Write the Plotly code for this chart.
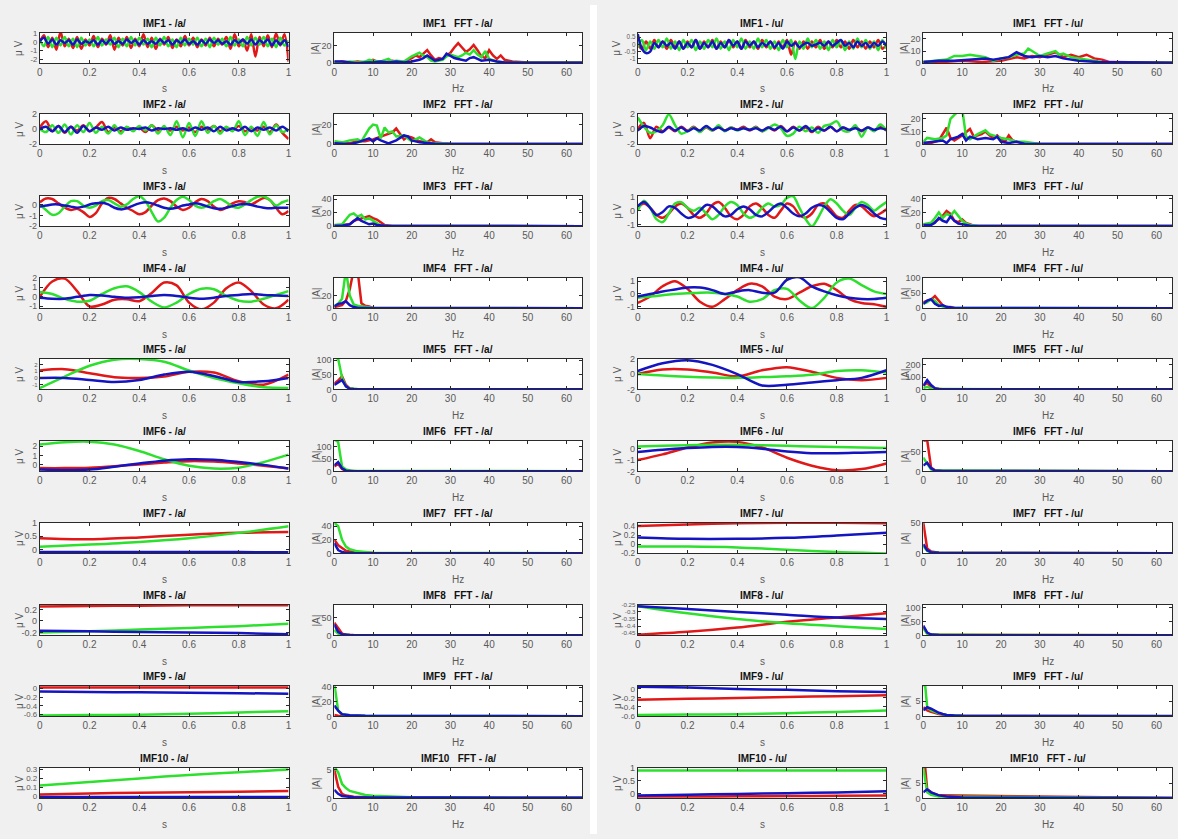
import numpy as np
import plotly.graph_objects as go

W, H = 1178, 839
RED, GREEN, BLUE = "#e01818", "#2ee02e", "#1414c0"

# ---------------- time-domain IMFs, vowel /a/ (values in uV, evenly spaced over 0..1 s) -------------
a1_red = [0.0, 0.8, -0.6, 0.5, -0.9, 1.2, -0.5, 0.4, -0.7, 0.6,
          -0.8, 0.3, -0.4, 0.7, -0.6, 0.4, -0.3, 0.8, -0.9, 0.5,
          -0.4, 0.6, -0.7, 0.4, -0.5, 0.9, -0.6, 0.5, -0.8, 0.4,
          -0.3, 0.6, -0.7, 0.3, -0.5, 0.7, -0.4, 0.5, -0.6, 0.3,
          -0.4, 0.5, -0.5, 0.4, -0.3, 0.6, -0.8, 0.9, -0.5, 0.3,
          -1.0, 0.9, -1.7, 0.6, -0.5, 0.8, -0.6, 1.0, -0.4, 0.9,
          -2.3]
a1_green = [0.3, -0.5, 0.6, -0.6, 0.5, -0.4, 0.6, -0.5, 0.4, -0.6,
            0.5, -0.4, 0.3, -0.5, 0.6, -0.4, 0.3, -0.3, 0.5, -0.6,
            0.4, -0.5, 0.6, -0.4, 0.5, -0.3, 0.4, -0.6, 0.5, -0.4,
            0.6, -0.5, 0.3, -0.6, 0.5, -0.4, 0.4, -0.3, 0.5, -0.5,
            0.4, -0.6, 0.5, -0.3, 0.4, -0.5, 0.6, -0.4, 0.3, -0.5,
            0.6, -0.4, 0.5, -0.3, 0.6, -0.5, 0.4, -0.6, 0.5, -0.4,
            0.2]
a1_blue = [0.1, 0.5, -0.2, 0.3, -0.3, 0.2, -0.1, 0.2, -0.3, 0.3,
           -0.2, 0.1, -0.1, 0.2, -0.3, 0.2, -0.2, 0.3, -0.2, 0.1,
           -0.2, 0.3, -0.1, 0.2, -0.3, 0.2, -0.2, 0.1, -0.2, 0.3,
           -0.1, 0.2, -0.3, 0.2, -0.1, 0.3, -0.2, 0.1, -0.3, 0.2,
           -0.2, 0.3, -0.1, 0.2, -0.2, 0.1, -0.3, 0.2, -0.1, 0.3,
           -0.2, 0.3, -0.3, 0.2, -0.1, 0.3, -0.4, 0.2, -0.3, 0.2,
           -0.6]

a2_red = [0.2, 1.0, -0.3, 0.4, -0.5, 0.3, -0.2, 0.5, -0.3, 0.2,
          0.9, -0.4, 0.2, -0.3, 0.2, -0.1, 0.2, -0.4, 0.5, -0.2,
          0.1, -0.2, 0.3, -0.2, 0.2, -0.4, 0.3, -0.1, 0.4, -0.3,
          0.2, -0.2, 0.4, -0.3, 0.1, -0.2, 0.3, -0.4, 0.6, -0.5,
          -1.3]
a2_green = [0.0, -0.4, 0.5, -0.5, 0.6, -0.7, 0.5, -0.4, 0.8, -0.5,
            0.3, -0.6, 0.5, -0.6, 0.3, -0.3, 0.4, -0.2, 0.5, -0.6,
            0.4, -0.8, 1.0, -1.1, 0.8, -0.9, 1.0, -0.5, 0.4, -0.6,
            0.3, -0.3, 1.0, -0.8, 0.3, -0.9, 0.9, -0.7, 0.5, -0.4,
            0.0]
a2_blue = [0.0, 0.3, -0.3, 0.4, -0.4, 0.3, -0.5, 0.4, -0.3, 0.2,
           -0.1, 0.3, -0.2, 0.2, -0.1, 0.1, 0.0, 0.2, -0.2, 0.1,
           0.0, 0.1, -0.1, 0.1, -0.2, 0.2, -0.1, 0.2, -0.3, 0.3,
           -0.2, 0.1, -0.2, 0.3, -0.3, 0.2, -0.1, 0.2, -0.2, 0.3,
           -0.3]

a3_red = [0.2, 0.55, 0.5, 0.1, -0.3, -0.5, -0.4, -0.7, -1.15, -0.8,
          0.1, 0.6, 0.5, 0.1, -0.3, -0.6, -0.9, -0.7, -0.1, 0.4,
          0.55, 0.3, -0.2, -0.5, -0.3, 0.2, 0.5, 0.3, -0.2, -0.5,
          -0.3, 0.1, 0.3, 0.2, 0.0, 0.3, 0.6, 0.4, -0.3, -0.9,
          -0.6]
a3_green = [0.0, -0.5, -0.95, -0.8, -0.2, 0.3, 0.3, -0.1, -0.3, -0.1,
            0.3, 0.4, 0.1, -0.2, 0.0, 0.5, 0.75, 0.3, -0.7, -1.55,
            -1.2, -0.3, 0.4, 0.7, 0.4, -0.1, -0.3, -0.1, 0.3, 0.5,
            0.2, -0.2, -0.3, 0.0, 0.4, 0.7, 0.75, 0.4, -0.1, 0.2,
            0.4]
a3_blue = [-0.2, -0.1, 0.0, 0.0, -0.1, -0.2, -0.3, -0.2, 0.0, 0.1,
           0.15, 0.0, -0.3, -0.45, -0.35, -0.1, 0.1, 0.2, 0.1, -0.1,
           -0.3, -0.4, -0.3, -0.1, 0.0, 0.1, 0.0, -0.2, -0.35, -0.4,
           -0.3, -0.15, 0.0, 0.05, -0.05, -0.2, -0.3, -0.35, -0.3, -0.3,
           -0.3]

a4_red = [0.0, 1.6, 1.9, 0.6, -1.0, -0.8, -0.3, -0.25, -0.45, 0.4, 1.5,
          1.2, -0.6, -1.3, -0.6, 0.9, 1.5, 0.6, -0.8, -1.2, -0.3]
a4_green = [0.5, 0.3, -0.2, -0.5, -0.4, 0.3, 0.9, 1.1, 0.5, -0.5, -1.1,
            -0.6, 0.3, 0.85, 0.8, 0.1, -0.4, -0.5, -0.2, 0.2, 0.6]
a4_blue = [-0.1, -0.2, -0.2, 0.0, 0.2, 0.15, 0.0, -0.1, -0.05, 0.1, 0.2,
           0.1, -0.1, -0.2, -0.1, 0.1, 0.2, 0.3, 0.2, 0.15, 0.1]

a5_red = [1.1, 1.3, 0.7, 0.1, 0.0, 0.2, 0.9, 0.8, -0.5, -1.0, 0.5]
a5_green = [-1.5, 0.2, 1.8, 2.7, 2.8, 2.4, 1.1, 0.0, -0.8, -1.4, -1.5]
a5_blue = [0.0, 0.0, -0.3, -0.6, -0.3, 0.5, 0.9, 0.3, -0.6, -0.5, 0.0]

a6_red = [-0.35, -0.35, -0.3, -0.15, 0.05, 0.25, 0.4, 0.35, 0.15, -0.1, -0.4]
a6_green = [2.2, 2.45, 2.5, 2.2, 1.5, 0.6, -0.1, -0.4, -0.3, 0.3, 1.1]
a6_blue = [-0.5, -0.55, -0.5, -0.2, 0.15, 0.45, 0.6, 0.55, 0.3, 0.0, -0.4]

a7_red = [0.42, 0.38, 0.45, 0.55, 0.62, 0.65]
a7_green = [0.1, 0.18, 0.28, 0.42, 0.62, 0.87]
a7_blue = [-0.1, -0.1, -0.1, -0.1, -0.1, -0.11]

a8_red = [0.25, 0.26, 0.265, 0.27, 0.27, 0.27]
a8_green = [-0.2, -0.18, -0.15, -0.12, -0.09, -0.05]
a8_blue = [-0.17, -0.18, -0.19, -0.2, -0.21, -0.23]

a9_red = [0.02, 0.02, 0.02, 0.02, 0.02, 0.02]
a9_green = [-0.62, -0.61, -0.6, -0.58, -0.55, -0.52]
a9_blue = [-0.07, -0.08, -0.09, -0.1, -0.11, -0.12]

a10_red = [0.02, 0.03, 0.04, 0.045, 0.05, 0.06]
a10_green = [0.12, 0.16, 0.2, 0.24, 0.27, 0.3]
a10_blue = [-0.01, -0.01, -0.01, -0.01, -0.01, -0.01]

# ---------------- time-domain IMFs, vowel /u/ -------------
u1_red = [0.0, -0.3, 0.2, -0.3, 0.3, -0.2, 0.2, -0.3, 0.3, -0.2,
          0.2, -0.3, 0.2, -0.2, 0.3, -0.3, 0.2, -0.2, 0.3, -0.3,
          0.2, -0.2, 0.3, -0.2, 0.2, -0.3, 0.3, -0.2, 0.2, -0.3,
          0.3, -0.2, 0.2, -0.3, 0.2, -0.2, 0.3, -0.7, 0.2, -0.3,
          0.2, -0.3, 0.2, -0.2, 0.3, -0.3, 0.2, -0.2, 0.3, -0.2,
          0.2, -0.3, 0.3, -0.2, 0.2, -0.3, 0.2, -0.2, 0.3, -0.3,
          0.0]
u1_green = [-0.2, 0.3, -0.4, 0.2, -0.3, 0.3, -0.2, 0.4, -0.3, 0.2,
            -0.4, 0.3, -0.2, 0.3, -0.4, 0.2, -0.3, 0.3, -0.2, 0.4,
            -0.3, 0.2, -0.4, 0.3, -0.2, 0.4, -0.3, 0.2, -0.3, 0.4,
            -0.2, 0.3, -0.3, 0.2, -0.4, 0.3, -0.2, 0.3, -1.0, 0.2,
            -0.3, 0.4, -0.2, 0.3, -0.3, 0.2, -0.4, 0.3, -0.2, 0.3,
            -0.4, 0.2, -0.3, 0.4, -0.2, 0.3, -0.3, 0.2, -0.4, 0.3,
            -0.3]
u1_blue = [0.7, -0.3, -0.6, -0.5, 0.1, -0.2, 0.2, -0.1, 0.1, -0.3,
           0.2, -0.3, 0.1, -0.2, 0.3, -0.3, 0.1, -0.2, 0.2, -0.3,
           0.1, -0.2, 0.3, -0.1, 0.2, -0.3, 0.2, -0.1, 0.2, -0.2,
           0.1, -0.1, 0.2, -0.2, 0.1, -0.3, 0.2, -0.1, 0.1, -0.2,
           0.0, 0.1, -0.1, 0.0, 0.1, -0.1, 0.2, -0.1, 0.1, 0.3,
           -0.1, 0.1, -0.2, 0.2, -0.1, 0.1, -0.2, 0.1, -0.1, 0.2,
           -0.1]

u2_red = [0.0, 0.8, -1.2, 0.3, -0.3, 0.2, -0.3, 0.3, -0.2, 0.3,
          -0.3, 0.2, -0.2, 0.3, -0.2, 0.2, -0.1, 0.3, -0.2, 0.3,
          -0.3, 0.2, -0.2, 0.4, -0.3, 0.3, -0.2, 0.2, -0.4, 0.3,
          -0.2, 0.3, -0.3, 0.2, -0.2, 0.3, -0.3, 0.2, -0.2, 0.3,
          -0.2]
u2_green = [1.5, 0.3, -0.5, -0.3, 0.5, 1.9, 0.5, -0.6, -0.3, 0.2,
            -0.4, 0.3, -0.2, 0.5, -0.3, 0.2, -0.2, 0.1, -0.1, 0.2,
            -0.3, 0.1, 0.6, 0.1, -0.9, -0.6, 0.3, -0.3, 0.2, -0.5,
            0.4, 0.6, 1.0, -0.2, -0.3, 0.5, -1.0, 0.2, -0.3, 0.6,
            -0.2]
u2_blue = [-0.2, 0.4, 0.2, -0.2, -0.4, 0.3, -0.2, 0.2, -0.3, 0.1,
           -0.2, 0.4, -0.1, 0.2, -0.2, 0.1, -0.1, 0.1, -0.1, 0.1,
           -0.2, 0.2, -0.1, 0.3, -0.3, 0.2, -0.2, 0.4, -0.3, 0.1,
           -0.2, 0.3, -0.3, 0.2, -0.1, 0.1, -0.2, 0.2, -0.1, 0.1,
           -0.1]

u3_red = [0.2, 0.5, 0.2, -0.3, -0.5, -0.2, 0.3, 0.5, 0.2, -0.3,
          -0.5, -0.2, 0.4, 0.6, 0.2, -0.4, -0.6, -0.3, 0.3, 0.5,
          0.2, -0.3, -0.5, 0.0, 0.5, 0.3, -0.3, -0.5, -0.2, 0.4,
          0.5, 0.1, -0.4, -0.5, 0.0, 0.4, 0.3, -0.1, -0.4, -0.2,
          0.1]
u3_green = [0.0, 0.7, 0.2, -0.6, -0.8, -0.2, 0.5, 0.6, 0.2, 0.0,
            0.2, -0.2, -0.6, -0.3, 0.3, 0.6, 0.4, -0.2, -0.5, -0.3,
            0.2, 0.5, 0.3, 0.4, 0.9, 1.0, 0.2, -0.6, -1.1, -0.5,
            0.3, 0.8, 0.5, 0.0, -0.3, 0.2, 0.6, 0.4, 0.0, 0.3,
            0.6]
u3_blue = [0.3, 0.6, 0.2, -0.3, -0.1, 0.3, 0.2, -0.2, -0.5, -0.4,
           0.0, 0.4, 0.3, -0.1, -0.4, -0.3, 0.1, 0.3, 0.1, -0.3,
           -0.4, -0.1, 0.3, 0.5, 0.2, -0.2, -0.4, -0.2, 0.2, 0.4,
           0.3, -0.1, -0.5, -0.6, -0.2, 0.2, 0.4, 0.2, -0.2, -0.5,
           -0.6]

u4_red = [-0.7, -0.2, 0.6, 1.0, 0.4, -0.6, -1.0, -0.4, 0.3, 0.8, 0.6,
          -0.2, -0.4, 0.1, 0.6, 0.8, 0.3, -0.4, -0.7, -0.8, -1.0]
u4_green = [-0.3, -0.2, -0.1, 0.0, 0.05, 0.1, 0.1, 0.0, -0.2, -0.6, -0.4,
            0.3, 0.4, -0.5, -1.1, -0.3, 0.9, 1.2, 0.7, 0.2, 0.0]
u4_blue = [-0.2, 0.0, 0.2, 0.35, 0.5, 0.5, 0.3, 0.0, 0.2, 0.3, 0.1,
           0.1, 1.1, 1.3, 0.6, 0.2, -0.1, -0.3, -0.4, -0.4, -0.3]

u5_red = [0.0, 0.6, 0.6, 0.2, -0.3, 0.5, 0.9, 0.3, -0.5, -0.8, -0.5]
u5_green = [0.0, -0.2, -0.35, -0.45, -0.5, -0.4, -0.3, -0.1, 0.4, 0.5, 0.2]
u5_blue = [0.4, 1.4, 1.8, 1.2, 0.0, -1.5, -1.4, -1.1, -0.8, -0.5, 0.5]

u6_red = [-1.0, -0.5, 0.1, 0.55, 0.6, 0.1, -0.8, -1.5, -1.9, -1.8, -1.3]
u6_green = [0.2, 0.25, 0.3, 0.35, 0.35, 0.3, 0.25, 0.2, 0.15, 0.1, 0.05]
u6_blue = [-0.3, -0.1, 0.05, 0.15, 0.15, 0.0, -0.25, -0.4, -0.4, -0.35, -0.3]

u7_red = [0.4, 0.43, 0.46, 0.47, 0.47, 0.46]
u7_green = [-0.05, -0.05, -0.07, -0.12, -0.17, -0.2]
u7_blue = [0.15, 0.12, 0.12, 0.14, 0.19, 0.25]

u8_red = [-0.46, -0.44, -0.41, -0.37, -0.34, -0.31]
u8_green = [-0.26, -0.31, -0.35, -0.38, -0.4, -0.42]
u8_blue = [-0.26, -0.28, -0.3, -0.32, -0.34, -0.35]

u9_red = [-0.24, -0.22, -0.2, -0.18, -0.16, -0.14]
u9_green = [-0.58, -0.57, -0.56, -0.54, -0.51, -0.48]
u9_blue = [0.05, 0.03, 0.0, -0.02, -0.05, -0.07]

u10_red = [-0.1, -0.1, -0.09, -0.08, -0.07, -0.06]
u10_green = [0.9, 0.9, 0.9, 0.9, 0.9, 0.9]
u10_blue = [-0.06, -0.03, 0.0, 0.03, 0.06, 0.1]

# ---------------- FFT magnitudes, (Hz, |A|) pairs -------------
fa1_red = [(0, 1), (2, 2), (4, 1), (6, 2), (8, 1), (10, 4), (11, 2), (13, 1), (15, 3), (17, 1), (18, 2),
           (20, 6), (21, 9), (22, 7), (23, 11), (24, 15), (25, 9), (26, 4), (27, 6), (28, 5), (29, 9),
           (30, 12), (31, 18), (32, 23), (33, 18), (34, 13), (35, 16), (36, 21), (37, 15), (38, 8),
           (39, 6), (40, 15), (41, 9), (42, 5), (43, 9), (44, 4), (46, 2), (50, 1), (64, 1)]
fa1_green = [(0, 2), (2, 1), (4, 2), (6, 1), (8, 2), (9, 4), (10, 3), (12, 2), (14, 5), (15, 2), (16, 3),
             (18, 2), (20, 8), (21, 10), (22, 12), (23, 9), (24, 7), (25, 3), (26, 2), (28, 4), (29, 8),
             (30, 10), (32, 7), (33, 9), (34, 12), (35, 10), (36, 15), (37, 10), (38, 7), (39, 14),
             (40, 5), (42, 2), (44, 1), (46, 1), (50, 0.5), (64, 0.5)]
fa1_blue = [(0, 2), (2, 2), (4, 1), (6, 0), (8, 1), (10, 1), (12, 2), (14, 1), (16, 2), (18, 1), (20, 2),
            (22, 4), (23, 6), (24, 9), (25, 6), (26, 3), (27, 4), (28, 5), (29, 11), (30, 8), (31, 6),
            (32, 5), (34, 3), (35, 6), (36, 7), (37, 5), (38, 3), (40, 4), (42, 2), (44, 1), (50, 0.5),
            (64, 0.5)]

fa2_red = [(0, 1), (4, 1), (6, 3), (8, 3), (10, 5), (12, 8), (14, 11), (15, 12), (16, 16), (17, 10),
           (18, 5), (19, 8), (20, 7), (22, 3), (24, 2), (25, 5), (26, 2), (28, 1), (30, 0.5), (64, 0.3)]
fa2_green = [(0, 3), (2, 2), (4, 4), (6, 5), (7, 3), (8, 10), (9, 16), (10, 20), (11, 19), (12, 6),
             (13, 17), (14, 12), (15, 13), (16, 8), (18, 9), (19, 6), (20, 3), (22, 7), (24, 2), (26, 1),
             (30, 0.5), (64, 0.3)]
fa2_blue = [(0, 1), (4, 0), (6, 2), (8, 5), (9, 6), (10, 3), (11, 6), (12, 4), (14, 1), (16, 4), (18, 9),
            (19, 8), (20, 4), (22, 2), (24, 1), (26, 0.5), (64, 0.3)]

fa3_red = [(0, 1), (2, 2), (4, 3), (5, 8), (6, 10), (8, 14), (9, 15), (10, 12), (11, 10), (12, 6), (13, 2),
           (15, 0.5), (64, 0.3)]
fa3_green = [(0, 2), (2, 3), (3, 10), (4, 17), (5, 19), (6, 14), (7, 17), (8, 10), (9, 12), (10, 8),
             (11, 4), (12, 1), (14, 0.5), (64, 0.3)]
fa3_blue = [(0, 1), (2, 1), (4, 3), (5, 8), (6, 12), (7, 8), (8, 5), (9, 3), (10, 4), (11, 2), (13, 1),
            (15, 0.5), (64, 0.3)]

fa4_red = [(0, 2), (1, 3), (2, 5), (3, 12), (4, 30), (5, 60), (6, 60), (7, 8), (8, 4), (9, 3), (10, 0.5),
           (64, 0.3)]
fa4_green = [(0, 4), (1, 7), (2, 15), (3, 60), (4, 20), (5, 6), (6, 4), (7, 3), (8, 3), (9, 1), (10, 0.5),
             (64, 0.3)]
fa4_blue = [(0, 3), (1, 7), (2, 8), (3, 11), (4, 5), (5, 2), (6, 1), (8, 0.5), (10, 0.3), (64, 0.3)]

fa5_red = [(0, 20), (1, 30), (2, 45), (3, 15), (4, 3), (5, 1), (64, 0.5)]
fa5_green = [(0, 110), (1, 105), (2, 40), (3, 10), (4, 3), (6, 1), (64, 0.5)]
fa5_blue = [(0, 15), (1, 25), (2, 32), (3, 10), (4, 2), (5, 1), (64, 0.5)]

fa6_red = [(0, 20), (1, 30), (2, 10), (3, 3), (5, 1), (64, 0.5)]
fa6_green = [(0, 130), (1, 120), (2, 20), (3, 8), (4, 4), (6, 2), (64, 1)]
fa6_blue = [(0, 25), (1, 38), (2, 12), (3, 3), (5, 1), (64, 0.5)]

fa7_red = [(0, 20), (1, 12), (2, 8), (3, 4), (5, 2), (8, 1), (10, 0.5), (64, 0.3)]
fa7_green = [(0, 45), (1, 40), (2, 20), (3, 10), (4, 6), (6, 3), (10, 1), (64, 0.3)]
fa7_blue = [(0, 15), (1, 5), (2, 2), (3, 1), (5, 0.5), (64, 0.3)]

fa8_red = [(0, 35), (1, 20), (2, 5), (3, 2), (5, 1), (64, 0.5)]
fa8_green = [(0, 15), (1, 5), (2, 2), (4, 1), (64, 0.5)]
fa8_blue = [(0, 30), (1, 10), (2, 3), (4, 1), (64, 0.5)]

fa9_red = [(0, 2), (1, 1), (3, 0.5), (64, 0.3)]
fa9_green = [(0, 45), (1, 8), (2, 3), (4, 1.5), (8, 0.8), (64, 0.3)]
fa9_blue = [(0, 15), (1, 8), (2, 3), (4, 1.5), (8, 0.8), (64, 0.3)]

fa10_red = [(0, 5), (1, 2), (2, 0.8), (3, 0.5), (5, 0.3), (10, 0.15), (64, 0.1)]
fa10_green = [(0, 5.5), (1, 4.5), (2, 2.5), (3, 1.8), (4, 1.3), (6, 0.9), (8, 0.6), (10, 0.45), (15, 0.3),
              (20, 0.2), (30, 0.15), (64, 0.1)]
fa10_blue = [(0, 1.5), (1, 0.8), (2, 0.4), (3, 0.3), (5, 0.2), (64, 0.1)]

fu1_red = [(0, 1), (5, 1), (10, 2), (15, 1), (20, 2), (24, 5), (26, 4), (28, 6), (30, 5), (32, 7), (34, 9),
           (36, 5), (38, 7), (40, 5), (42, 7), (44, 4), (46, 3), (48, 1), (64, 0.5)]
fu1_green = [(0, 1), (4, 2), (6, 3), (8, 6), (10, 6), (12, 7), (14, 6), (16, 5), (18, 2), (20, 4), (22, 5),
             (24, 7), (26, 8), (27, 12), (28, 10), (30, 6), (32, 8), (34, 10), (35, 7), (36, 8), (38, 5),
             (40, 4), (42, 3), (44, 2), (46, 1), (50, 0.5), (64, 0.5)]
fu1_blue = [(0, 1), (4, 2), (8, 2), (12, 3), (16, 4), (18, 3), (20, 4), (22, 5), (24, 9), (26, 6), (28, 5),
            (30, 6), (32, 5), (34, 6), (36, 4), (38, 3), (40, 2), (45, 1), (64, 0.5)]

fu2_red = [(0, 1), (2, 1), (4, 3), (5, 8), (6, 13), (7, 5), (8, 3), (10, 7), (12, 12), (13, 6), (15, 8),
           (16, 10), (17, 7), (18, 5), (19, 7), (20, 4), (21, 2), (22, 7), (23, 3), (24, 2), (26, 1),
           (30, 0.3), (64, 0.2)]
fu2_green = [(0, 2), (1, 5), (3, 4), (5, 5), (6, 7), (7, 20), (8, 23), (9, 26), (10, 28), (11, 6),
             (12, 4), (14, 8), (16, 11), (17, 8), (18, 7), (20, 5), (22, 4), (24, 2), (26, 2), (28, 1),
             (30, 0.3), (64, 0.2)]
fu2_blue = [(0, 1), (3, 2), (5, 3), (6, 1), (7, 4), (8, 5), (9, 6), (10, 8), (11, 3), (12, 6), (14, 4),
            (16, 5), (18, 4), (19, 6), (20, 2), (22, 1), (24, 2), (26, 0.5), (64, 0.2)]

fu3_red = [(0, 2), (2, 3), (4, 10), (5, 15), (6, 22), (7, 18), (8, 8), (9, 6), (10, 10), (11, 5), (13, 1),
           (15, 0.5), (64, 0.3)]
fu3_green = [(0, 3), (2, 5), (3, 12), (4, 20), (5, 12), (6, 18), (7, 15), (8, 22), (9, 15), (10, 8),
             (11, 4), (12, 2), (14, 1), (16, 0.5), (64, 0.3)]
fu3_blue = [(0, 2), (2, 2), (3, 5), (4, 12), (5, 8), (6, 6), (7, 14), (8, 8), (9, 4), (10, 3), (12, 1),
            (14, 0.5), (64, 0.3)]

fu4_red = [(0, 20), (1, 25), (2, 28), (3, 40), (4, 25), (5, 10), (6, 3), (7, 4), (8, 1), (10, 0.5),
           (64, 0.3)]
fu4_green = [(0, 15), (1, 20), (2, 30), (3, 25), (4, 10), (5, 5), (6, 2), (8, 1), (64, 0.3)]
fu4_blue = [(0, 15), (1, 25), (2, 30), (3, 15), (4, 8), (5, 10), (6, 5), (7, 2), (8, 1), (64, 0.3)]

fu5_red = [(0, 30), (1, 55), (2, 20), (3, 5), (5, 1), (64, 0.5)]
fu5_green = [(0, 10), (1, 20), (2, 8), (3, 2), (64, 0.5)]
fu5_blue = [(0, 30), (1, 75), (2, 35), (3, 10), (4, 3), (6, 1), (64, 0.5)]

fu6_red = [(0, 78), (1, 80), (2, 10), (3, 3), (5, 1), (64, 0.5)]
fu6_green = [(0, 35), (1, 20), (2, 5), (3, 2), (64, 0.5)]
fu6_blue = [(0, 15), (1, 22), (2, 8), (3, 2), (5, 1), (64, 0.5)]

fu7_red = [(0, 50), (1, 8), (2, 3), (4, 1), (64, 0.3)]
fu7_green = [(0, 12), (1, 4), (2, 2), (4, 1), (64, 0.3)]
fu7_blue = [(0, 15), (1, 5), (2, 2), (4, 1), (64, 0.3)]

fu8_red = [(0, 30), (1, 8), (2, 2), (64, 0.5)]
fu8_green = [(0, 25), (1, 6), (2, 2), (64, 0.5)]
fu8_blue = [(0, 35), (1, 10), (2, 3), (4, 1), (64, 0.5)]

fu9_red = [(0, 3), (1, 2), (2, 1.5), (4, 0.8), (6, 0.4), (10, 0.2), (64, 0.1)]
fu9_green = [(0, 10), (0.5, 10), (1, 3), (2, 2), (4, 1), (6, 0.5), (10, 0.2), (64, 0.1)]
fu9_blue = [(0, 2), (1, 3), (2, 2.5), (3, 1.8), (4, 1.2), (5, 0.8), (6, 0.5), (8, 0.3), (10, 0.2),
            (20, 0.1), (64, 0.05)]

fu10_red = [(0, 10), (0.5, 10), (1, 3), (2, 2), (4, 1), (64, 0.1)]
fu10_green = [(0, 10), (1, 2), (2, 1.2), (4, 0.6), (64, 0.1)]
fu10_blue = [(0, 2), (1, 3), (2, 2), (3, 1.5), (4, 1), (6, 0.6), (10, 0.3), (64, 0.1)]

# ---------------- axis ranges and ticks per panel -------------
a_yrange = [(-2.5, 1.1), (-2, 2), (-2, 0.8), (-1.2, 2), (-1.7, 2.85), (-0.7, 2.6), (-0.15, 1),
            (-0.25, 0.28), (-0.64, 0.06), (-0.025, 0.32)]
a_yticks = [[-2, -1, 0, 1], [-2, 0, 2], [-2, -1, 0], [-1, 0, 1, 2], [-1, 0, 1, 2], [0, 1, 2],
            [0, 0.5, 1], [-0.2, 0, 0.2], [-0.6, -0.4, -0.2, 0], [0, 0.1, 0.2, 0.3]]
u_yrange = [(-1.3, 0.8), (-2, 2), (-1.1, 1.05), (-1.12, 1.27), (-2, 2), (-2, 0.7), (-0.2, 0.47),
            (-0.465, -0.25), (-0.61, 0.07), (-0.17, 1.0)]
u_yticks = [[-1, -0.5, 0, 0.5], [-2, 0, 2], [-1, 0, 1], [-1, 0, 1], [-2, 0, 2], [-2, -1, 0],
            [-0.2, 0, 0.2, 0.4], [-0.45, -0.4, -0.35, -0.3, -0.25], [-0.6, -0.4, -0.2, 0], [0, 0.5, 1]]
fa_yrange = [35, 31, 45, 48, 105, 125, 45, 85, 42, 5.3]
fa_yticks = [[0, 20], [0, 20], [0, 20, 40], [0, 20], [0, 50, 100], [0, 50, 100], [0, 20, 40], [0, 50],
             [0, 20, 40], [0, 5]]
fu_yrange = [25, 24, 44, 100, 250, 78, 50, 110, 10, 10]
fu_yticks = [[0, 10, 20], [0, 10, 20], [0, 20, 40], [0, 50, 100], [0, 100, 200], [0, 50], [0, 50],
             [0, 50, 100], [0, 5], [0, 5]]

time_ticks = [0, 0.2, 0.4, 0.6, 0.8, 1]
freq_ticks = [0, 10, 20, 30, 40, 50, 60]

a_series = [(a1_red, a1_green, a1_blue), (a2_red, a2_green, a2_blue), (a3_red, a3_green, a3_blue),
            (a4_red, a4_green, a4_blue), (a5_red, a5_green, a5_blue), (a6_red, a6_green, a6_blue),
            (a7_red, a7_green, a7_blue), (a8_red, a8_green, a8_blue), (a9_red, a9_green, a9_blue),
            (a10_red, a10_green, a10_blue)]
u_series = [(u1_red, u1_green, u1_blue), (u2_red, u2_green, u2_blue), (u3_red, u3_green, u3_blue),
            (u4_red, u4_green, u4_blue), (u5_red, u5_green, u5_blue), (u6_red, u6_green, u6_blue),
            (u7_red, u7_green, u7_blue), (u8_red, u8_green, u8_blue), (u9_red, u9_green, u9_blue),
            (u10_red, u10_green, u10_blue)]
fa_series = [(fa1_red, fa1_green, fa1_blue), (fa2_red, fa2_green, fa2_blue), (fa3_red, fa3_green, fa3_blue),
             (fa4_red, fa4_green, fa4_blue), (fa5_red, fa5_green, fa5_blue), (fa6_red, fa6_green, fa6_blue),
             (fa7_red, fa7_green, fa7_blue), (fa8_red, fa8_green, fa8_blue), (fa9_red, fa9_green, fa9_blue),
             (fa10_red, fa10_green, fa10_blue)]
fu_series = [(fu1_red, fu1_green, fu1_blue), (fu2_red, fu2_green, fu2_blue), (fu3_red, fu3_green, fu3_blue),
             (fu4_red, fu4_green, fu4_blue), (fu5_red, fu5_green, fu5_blue), (fu6_red, fu6_green, fu6_blue),
             (fu7_red, fu7_green, fu7_blue), (fu8_red, fu8_green, fu8_blue), (fu9_red, fu9_green, fu9_blue),
             (fu10_red, fu10_green, fu10_blue)]

# ---------------- layout geometry (pixels) -------------
col_x = [(37, 287), (333, 582), (638, 888), (925, 1175)]
row_top = [28, 110, 193, 276, 358, 441, 524, 607, 689, 772]
BOX_H = 31
FONT = "Liberation Sans, Arial, sans-serif"
AXC = "#2a2a2a"
TICKC = "#5a5a5a"

def fmt(v):
    return "%g" % v

fig = go.Figure()
layout = dict(
    width=W, height=H, margin=dict(l=0, r=0, t=0, b=0),
    paper_bgcolor="#f0f0f0", plot_bgcolor="white", showlegend=False,
    font=dict(family=FONT, size=10, color=TICKC),
)
annotations = []

def add_panel(k, r, c, kind, series, yrange, yticks, title):
    xs = "x" if k == 1 else "x%d" % k
    ys = "y" if k == 1 else "y%d" % k
    x0, x1 = col_x[c]
    top = row_top[r]
    bot = top + BOX_H
    colors = (RED, GREEN, BLUE)
    for vals, colr in zip(series, colors):
        if kind == "time":
            xv = np.linspace(0, 1, len(vals))
            fig.add_trace(go.Scatter(x=xv, y=vals, mode="lines", xaxis=xs, yaxis=ys,
                                     line=dict(color=colr, width=2.5, shape="spline", smoothing=0.9),
                                     hoverinfo="skip"))
        else:
            xv = [p[0] for p in vals]
            yv = [p[1] for p in vals]
            fig.add_trace(go.Scatter(x=xv, y=yv, mode="lines", xaxis=xs, yaxis=ys,
                                     line=dict(color=colr, width=2.5), hoverinfo="skip"))
    if kind == "time":
        xr, xt = [0, 1], time_ticks
        yr = list(yrange)
        xlab, ylab = "s", "\u03bc V"
    else:
        xr, xt = [0, 64], freq_ticks
        yr = [0, yrange]
        xlab, ylab = "Hz", "|A|"
    # shrink tick labels where MATLAB packed them tightly
    step = yticks[1] - yticks[0]
    spacing = BOX_H * step / (yr[1] - yr[0])
    ysize = max(6, min(9, spacing - 1))
    common = dict(showline=True, linecolor=AXC, linewidth=1, mirror="ticks", ticks="inside",
                  ticklen=3, tickcolor=AXC, tickwidth=1, showgrid=False, zeroline=False,
                  fixedrange=True)
    layout["xaxis" if k == 1 else "xaxis%d" % k] = dict(
        domain=[x0 / W, x1 / W], range=xr, anchor=ys, tickvals=xt,
        ticktext=[fmt(v) for v in xt], tickfont=dict(size=10, color=TICKC), **common)
    layout["yaxis" if k == 1 else "yaxis%d" % k] = dict(
        domain=[1 - bot / H, 1 - top / H], range=yr, anchor=xs, tickvals=yticks,
        ticktext=[fmt(v) for v in yticks], tickfont=dict(size=ysize, color=TICKC), **common)
    cx = (x0 + x1) / 2
    annotations.append(dict(text="<b>%s</b>" % title, x=cx / W, y=1 - (top - 9) / H, xref="paper",
                            yref="paper", showarrow=False, xanchor="center", yanchor="middle",
                            font=dict(size=10, color="#111", family=FONT)))
    annotations.append(dict(text=xlab, x=cx / W, y=1 - (bot + 26) / H, xref="paper", yref="paper",
                            showarrow=False, xanchor="center", yanchor="middle",
                            font=dict(size=10, color=TICKC, family=FONT)))
    lx = x0 - 21 if kind == "time" else x0 - 18
    annotations.append(dict(text=ylab, x=lx / W, y=1 - (top + BOX_H / 2) / H, xref="paper",
                            yref="paper", showarrow=False, xanchor="center", yanchor="middle",
                            textangle=-90, font=dict(size=10, color=TICKC, family=FONT)))

NB = "\u00a0"
for r in range(10):
    n = r + 1
    add_panel(r * 4 + 1, r, 0, "time", a_series[r], a_yrange[r], a_yticks[r], "IMF%d - /a/" % n)
    add_panel(r * 4 + 2, r, 1, "fft", fa_series[r], fa_yrange[r], fa_yticks[r],
              "IMF%d%sFFT - /a/" % (n, NB * 3))
    add_panel(r * 4 + 3, r, 2, "time", u_series[r], u_yrange[r], u_yticks[r], "IMF%d - /u/" % n)
    add_panel(r * 4 + 4, r, 3, "fft", fu_series[r], fu_yrange[r], fu_yticks[r],
              "IMF%d%sFFT - /u/" % (n, NB * 3))

layout["annotations"] = annotations
layout["shapes"] = [dict(type="rect", xref="paper", yref="paper", x0=590 / W, x1=597 / W, y0=0, y1=1,
                         fillcolor="white", line=dict(width=0), layer="below")]
fig.update_layout(**layout)
fig.write_html("out.html", config={"displayModeBar": False},
               post_script="document.body.style.margin='0';document.body.style.overflow='hidden';")
